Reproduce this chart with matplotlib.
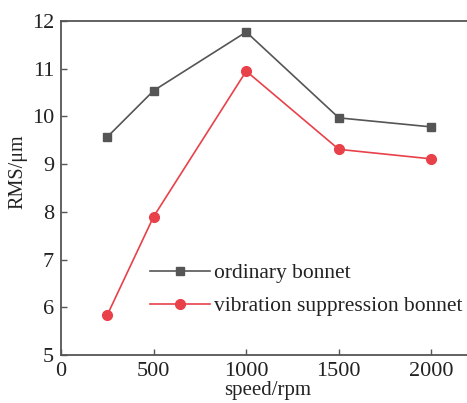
import numpy as np
import matplotlib.pyplot as plt

plt.rcParams['font.family'] = ['Liberation Serif', 'DejaVu Serif']

speed = [250, 500, 1000, 1500, 2000]
rms_ordinary = [9.57, 10.54, 11.77, 9.97, 9.78]
rms_vibration = [5.84, 7.90, 10.95, 9.31, 9.11]

W, H = 467, 403
fig = plt.figure(figsize=(W / 100, H / 100), dpi=100)
# axes box in pixels: left 61, top 21, bottom 355, right just past the edge
ax = fig.add_axes([61 / W, (H - 355) / H, (468.5 - 61) / W, (355 - 21) / H])

ax.plot(speed, rms_ordinary, color='#555555', marker='s', ms=6, lw=1.2,
        label='ordinary bonnet')
ax.plot(speed, rms_vibration, color='#e8414a', marker='o', ms=7, lw=1.2,
        label='vibration suppression bonnet')

ax.set_xlim(0, 2200)
ax.set_ylim(5, 12)
ax.set_xticks([0, 500, 1000, 1500, 2000])
ax.set_yticks(range(5, 13))
ax.tick_params(direction='in', length=4, width=1, color='#555555',
               labelsize=16, labelcolor='#222222')
ax.tick_params(axis='x', pad=5)
ax.tick_params(axis='y', pad=5)
for s in ax.spines.values():
    s.set_color('#555555')
    s.set_linewidth(1.3)

ax.set_xlabel('speed/rpm', fontsize=15, color='#222222')
ax.set_ylabel('RMS/μm', fontsize=14.5, color='#222222')
ax.xaxis.set_label_coords(0.508, -0.077)
ax.yaxis.set_label_coords(-0.082, 0.548)

leg = ax.legend(loc='upper left', bbox_to_anchor=(150 / W, (H - 263) / H),
                bbox_transform=fig.transFigure, frameon=False,
                fontsize=15.5, handlelength=2.8, handletextpad=0.15,
                labelspacing=0.6, borderpad=0, borderaxespad=0,
                labelcolor='#222222')

fig.savefig('out.png', dpi=100)
